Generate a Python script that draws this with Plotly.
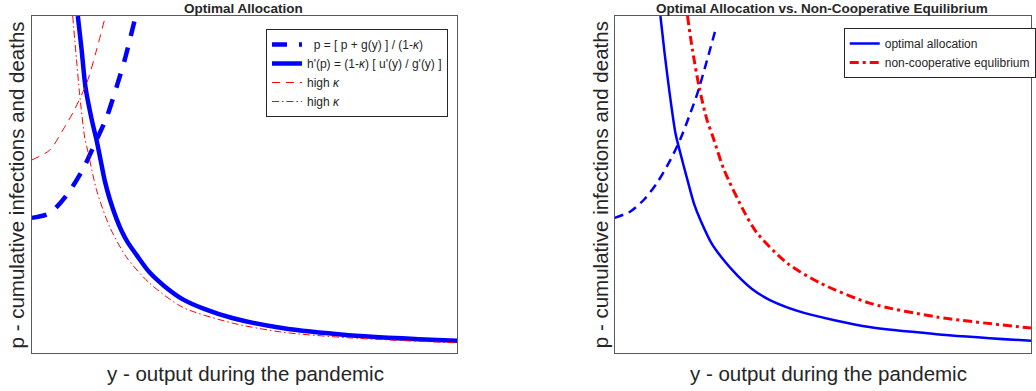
import plotly.graph_objects as go

# ---------------- data (arbitrary units 0-100) ----------------
# Left panel: Optimal Allocation
L_pconst_x = [0, 4.2, 8.2, 11.9, 15.2, 17.6, 19.9, 21.8, 23.2, 24.4]
L_pconst_y = [40.1, 41.5, 46.9, 54.3, 63.2, 70.0, 78.9, 86.9, 93.8, 100]

L_hprime_x = [10.8, 11.7, 12.6, 14.1, 15.2, 16.2, 17.1, 18.3, 19.9, 21.1, 22.5, 24.6, 27.6,
              31.1, 35.4, 40.5, 47.1, 58.8, 74.5, 100]
L_hprime_y = [100, 89.9, 78.9, 69.1, 63.2, 57.0, 51.3, 45.7, 39.8, 36.2, 32.9, 29.1, 24.0,
              19.9, 16.0, 13.1, 10.4, 7.4, 5.3, 3.6]

L_highk_dash_x = [0, 4.2, 7.3, 9.6, 12.9, 15.2, 17.3]
L_highk_dash_y = [57.3, 60.2, 66.2, 71.2, 80.1, 89.9, 100]

L_highk_dashdot_x = [9.6, 10.5, 11.2, 12.4, 13.1, 15.2, 18.3, 22.2, 27.6, 35.4, 47.1, 58.8, 74.5, 100]
L_highk_dashdot_y = [100, 86.9, 77.2, 64.1, 60.2, 48.4, 37.4, 28.5, 20.8, 13.6, 8.9, 6.2, 4.5, 3.0]

# Right panel: Optimal Allocation vs. Non-Cooperative Equilibrium
R_opt_x = [11.0, 12.0, 13.2, 14.6, 15.6, 17.5, 19.1, 20.6, 23.4, 25.8, 29.4, 33.0, 37.3, 45.5, 61.2, 77.3, 100]
R_opt_y = [100, 89.0, 77.2, 65.3, 60.2, 51.3, 44.2, 39.5, 32.3, 28.2, 23.1, 19.0, 15.7, 11.9, 7.7, 5.6, 3.6]

R_pconst_x = [0, 3.8, 7.2, 10.3, 13.4, 15.8, 17.9, 19.9, 22.2, 24.4]
R_pconst_y = [40.1, 42.0, 45.7, 50.7, 57.3, 63.5, 70.2, 77.1, 86.9, 96.7]

R_nc_x = [17.5, 18.7, 20.3, 22.2, 23.7, 26.3, 31.3, 34.2, 41.4, 49.3, 61.2, 77.3, 100]
R_nc_y = [100, 89.9, 78.9, 69.1, 63.8, 54.3, 41.5, 35.6, 26.7, 20.8, 14.8, 10.7, 7.4]

# labels
left_title = "<b>Optimal Allocation</b>"
right_title = "<b>Optimal Allocation vs. Non-Cooperative Equilibrium</b>"
x_label = "y - output during the pandemic"
y_label = "p - cumulative infections and deaths"
left_names = ["  p = [ p + g(y) ] / (1-<i>κ</i>)",
              "h'(p) = (1-<i>κ</i>) [ u'(y) / g'(y) ]",
              "high <i>κ</i>",
              "high <i>κ</i>"]
right_names = ["optimal allocation", "non-cooperative equlibrium"]

# ---------------- figure ----------------
W, H = 1036, 391
BLUE, RED = "#0000FF", "#FF0000"
TXT = "#262626"
FONT = "Liberation Sans, Arial, Helvetica, sans-serif"
SM = 0.75

fig = go.Figure()

# left panel
fig.add_trace(go.Scatter(x=L_pconst_x, y=L_pconst_y, mode="lines", name=left_names[0],
                         line=dict(color=BLUE, width=4.5, dash="15px,12px", shape="spline", smoothing=SM),
                         xaxis="x", yaxis="y", legend="legend"))
fig.add_trace(go.Scatter(x=L_hprime_x, y=L_hprime_y, mode="lines", name=left_names[1],
                         line=dict(color=BLUE, width=4.5, shape="spline", smoothing=SM),
                         xaxis="x", yaxis="y", legend="legend"))
fig.add_trace(go.Scatter(x=L_highk_dash_x, y=L_highk_dash_y, mode="lines", name=left_names[2],
                         line=dict(color=RED, width=1, dash="8px,6px", shape="spline", smoothing=SM),
                         xaxis="x", yaxis="y", legend="legend"))
fig.add_trace(go.Scatter(x=L_highk_dashdot_x, y=L_highk_dashdot_y, mode="lines", name=left_names[3],
                         line=dict(color=RED, width=1, dash="7px,3px,1.5px,3px", shape="spline", smoothing=SM),
                         xaxis="x", yaxis="y", legend="legend"))

# right panel
fig.add_trace(go.Scatter(x=R_opt_x, y=R_opt_y, mode="lines", name=right_names[0],
                         line=dict(color=BLUE, width=2.5, shape="spline", smoothing=SM),
                         xaxis="x2", yaxis="y2", legend="legend2"))
fig.add_trace(go.Scatter(x=R_nc_x, y=R_nc_y, mode="lines", name=right_names[1],
                         line=dict(color=RED, width=3, dash="9px,4px,3px,4px", shape="spline", smoothing=SM),
                         xaxis="x2", yaxis="y2", legend="legend2"))
fig.add_trace(go.Scatter(x=R_pconst_x, y=R_pconst_y, mode="lines", name="p",
                         line=dict(color=BLUE, width=2.5, dash="9px,6px", shape="spline", smoothing=SM),
                         xaxis="x2", yaxis="y2", showlegend=False))

ybot = (H - 353) / H
ytop = (H - 16) / H
axis_common = dict(range=[0, 100], showticklabels=False, ticks="", showgrid=False,
                   zeroline=False, showline=True, linecolor="#5a5a5a", linewidth=1,
                   mirror=True, fixedrange=True)

fig.update_layout(
    width=W, height=H,
    margin=dict(l=0, r=0, t=0, b=0),
    paper_bgcolor="white", plot_bgcolor="white",
    font=dict(family=FONT, color=TXT),
    xaxis=dict(domain=[32 / W, 459 / W], anchor="y", **axis_common),
    yaxis=dict(domain=[ybot, ytop], anchor="x", **axis_common),
    xaxis2=dict(domain=[617 / W, 1035 / W], anchor="y2", **axis_common),
    yaxis2=dict(domain=[ybot, ytop], anchor="x2", **axis_common),
    legend=dict(x=267 / W, y=1 - 29 / H, xanchor="left", yanchor="top",
                bgcolor="white", bordercolor="#262626", borderwidth=1,
                font=dict(size=12, family=FONT, color=TXT), tracegroupgap=0),
    legend2=dict(x=847 / W, y=1 - 28 / H, xanchor="left", yanchor="top",
                 bgcolor="white", bordercolor="#262626", borderwidth=1,
                 font=dict(size=12, family=FONT, color=TXT), tracegroupgap=0),
    showlegend=True,
)

annos = [
    dict(text=left_title, x=244 / W, y=1.0, yanchor="top", font=dict(size=13.5)),
    dict(text=right_title, x=825 / W, y=1.0, yanchor="top", font=dict(size=13.5)),
    dict(text=x_label, x=246 / W, y=1 - 373 / H, yanchor="middle", font=dict(size=20.5)),
    dict(text=x_label, x=832 / W, y=1 - 373 / H, yanchor="middle", font=dict(size=20.5)),
    dict(text=y_label, x=17 / W, y=1 - 184.5 / H, yanchor="middle", font=dict(size=20.5), textangle=-90),
    dict(text=y_label, x=603 / W, y=1 - 184.5 / H, yanchor="middle", font=dict(size=20.5), textangle=-90),
]
for a in annos:
    fig.add_annotation(xref="paper", yref="paper", xanchor="center", borderpad=0,
                       showarrow=False, font_family=FONT, font_color=TXT, **a)

fig.write_html("out.html", config={"displayModeBar": False},
               post_script="document.body.style.margin='0';")
